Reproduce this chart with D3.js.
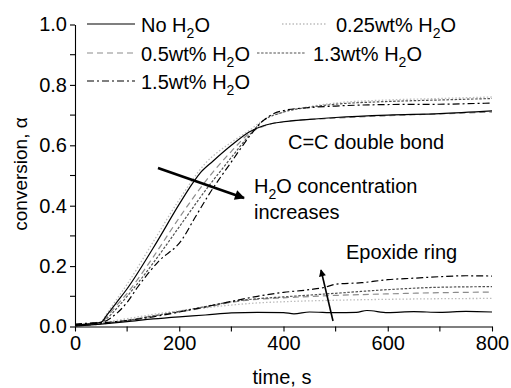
<!DOCTYPE html>
<html>
<head>
<meta charset="utf-8">
<script src="https://cdn.jsdelivr.net/npm/d3@7"></script>
<style>
    body { margin: 0; background: #fff; }
    text { font-family: "Liberation Sans", Arial, sans-serif; fill: #000; }
</style>
</head>
<body>
<div id="chart-area"></div>
<script>

// legend entries, in legend order
let seriesNames = ["No", "0.25wt%", "0.5wt%", "1.3wt%", "1.5wt%"];

// C=C double bond conversion, [time s, alpha]
let ccNo = [[0, 0.004], [25, 0.008], [50, 0.014], [60, 0.035], [80, 0.08], [100, 0.125], [150, 0.26],
    [200, 0.405], [220, 0.46], [240, 0.508], [265, 0.548], [300, 0.6], [335, 0.645], [360, 0.664],
    [400, 0.678], [450, 0.686], [500, 0.692], [600, 0.7], [700, 0.705], [800, 0.714]];
let cc025 = [[0, 0.006], [25, 0.01], [50, 0.016], [60, 0.04], [80, 0.09], [100, 0.14], [150, 0.28],
    [200, 0.42], [250, 0.54], [300, 0.61], [335, 0.65], [360, 0.682], [400, 0.71], [450, 0.728],
    [500, 0.74], [600, 0.75], [700, 0.755], [800, 0.76]];
let cc05 = [[0, 0.003], [25, 0.007], [50, 0.012], [60, 0.03], [80, 0.07], [100, 0.11], [150, 0.23],
    [200, 0.36], [250, 0.48], [300, 0.58], [335, 0.64], [360, 0.662], [400, 0.678], [500, 0.69],
    [600, 0.698], [700, 0.704], [800, 0.71]];
let cc13 = [[0, 0.005], [25, 0.009], [50, 0.014], [60, 0.025], [80, 0.06], [100, 0.1], [150, 0.21],
    [200, 0.33], [250, 0.45], [300, 0.56], [335, 0.635], [360, 0.68], [400, 0.71], [450, 0.726],
    [500, 0.736], [600, 0.745], [700, 0.75], [800, 0.755]];
let cc15 = [[0, 0.008], [25, 0.011], [50, 0.013], [70, 0.03], [100, 0.08], [120, 0.13], [160, 0.215],
    [205, 0.287], [230, 0.36], [258, 0.44], [300, 0.545], [335, 0.63], [360, 0.68], [380, 0.704],
    [400, 0.715], [450, 0.725], [500, 0.73], [600, 0.735], [700, 0.736], [800, 0.74]];

// epoxide ring conversion, [time s, alpha]
let epNo = [[0, 0.001], [50, 0.008], [100, 0.016], [150, 0.025], [200, 0.032], [250, 0.038],
    [300, 0.045], [350, 0.047], [400, 0.046], [420, 0.042], [450, 0.048], [500, 0.046], [540, 0.047],
    [560, 0.053], [600, 0.046], [650, 0.049], [700, 0.047], [750, 0.05], [800, 0.048]];
let ep025 = [[0, 0.003], [50, 0.012], [100, 0.026], [150, 0.04], [200, 0.052], [250, 0.062],
    [300, 0.071], [350, 0.078], [400, 0.082], [500, 0.087], [600, 0.09], [700, 0.092], [800, 0.093]];
let ep05 = [[0, 0.001], [50, 0.008], [100, 0.02], [150, 0.035], [200, 0.048], [250, 0.063],
    [300, 0.08], [350, 0.09], [400, 0.095], [500, 0.103], [600, 0.108], [700, 0.112], [800, 0.114]];
let ep13 = [[0, 0.002], [50, 0.01], [100, 0.02], [150, 0.035], [200, 0.05], [250, 0.066],
    [300, 0.082], [350, 0.092], [400, 0.098], [500, 0.11], [600, 0.122], [700, 0.13], [800, 0.132]];
let ep15 = [[0, 0.006], [50, 0.012], [100, 0.02], [150, 0.032], [200, 0.048], [250, 0.065],
    [300, 0.083], [350, 0.1], [400, 0.113], [450, 0.122], [480, 0.13], [500, 0.14], [550, 0.145],
    [600, 0.155], [650, 0.16], [700, 0.165], [750, 0.168], [800, 0.167]];

// axis ticks
let xTicks = [0, 200, 400, 600, 800];
let xMinor = [100, 300, 500, 700];
let yTicks = [0, 0.2, 0.4, 0.6, 0.8, 1.0];
let yMinor = [0.1, 0.3, 0.5, 0.7, 0.9];


class ConversionChart {

    constructor(parentElement) {
        this.parentElement = parentElement;
        this.initVis();
    }

    initVis() {
        let vis = this;

        vis.width = 511;
        vis.height = 388;

        vis.svg = d3.select("#" + vis.parentElement).append("svg")
            .attr("width", vis.width)
            .attr("height", vis.height);

        vis.x = d3.scaleLinear().domain([0, 800]).range([75, 492]);
        vis.y = d3.scaleLinear().domain([0, 1]).range([326.5, 24.5]);

        // styles for each water content
        vis.styles = {
            "No":      {color: "#000", dash: null, width: 1.2},
            "0.25wt%": {color: "#bdbdbd", dash: "1.5,2", width: 1.3},
            "0.5wt%":  {color: "#8c8c8c", dash: "6,4", width: 1.2},
            "1.3wt%":  {color: "#505050", dash: "2.5,1.6", width: 1.2},
            "1.5wt%":  {color: "#000", dash: "7,3,2,3", width: 1.2}
        };

        vis.wrangleData();
    }

    wrangleData() {
        let vis = this;

        let cc = [ccNo, cc025, cc05, cc13, cc15];
        let ep = [epNo, ep025, ep05, ep13, ep15];

        vis.lines = [];
        seriesNames.forEach((name, i) => {
            vis.lines.push({name: name, values: cc[i]});
            vis.lines.push({name: name, values: ep[i]});
        });

        vis.updateVis();
    }

    updateVis() {
        let vis = this;

        // axes
        let xAxis = d3.axisBottom(vis.x).tickValues(xTicks).tickSize(5).tickSizeOuter(0)
            .tickFormat(d3.format("d")).tickPadding(4);
        let yAxis = d3.axisLeft(vis.y).tickValues(yTicks).tickSize(5).tickSizeOuter(0)
            .tickFormat(d3.format(".1f")).tickPadding(3);

        let gx = vis.svg.append("g")
            .attr("transform", `translate(0, ${vis.y(0)})`)
            .call(xAxis);
        let gy = vis.svg.append("g")
            .attr("transform", `translate(${vis.x(0)}, 0)`)
            .call(yAxis);

        [gx, gy].forEach(g => {
            g.selectAll("text").style("font-size", "20px").attr("fill", "#000");
            g.selectAll("line").attr("stroke", "#000").attr("stroke-width", 1.1);
            g.select(".domain").attr("stroke", "#000").attr("stroke-width", 1.1);
        });

        // minor ticks
        vis.svg.selectAll(".xMinor")
            .data(xMinor)
            .enter().append("line")
            .attr("class", "xMinor")
            .attr("x1", d => vis.x(d)).attr("x2", d => vis.x(d))
            .attr("y1", vis.y(0)).attr("y2", vis.y(0) + 5)
            .attr("stroke", "#000").attr("stroke-width", 1.1);
        vis.svg.selectAll(".yMinor")
            .data(yMinor)
            .enter().append("line")
            .attr("class", "yMinor")
            .attr("x1", vis.x(0) - 5).attr("x2", vis.x(0))
            .attr("y1", d => vis.y(d)).attr("y2", d => vis.y(d))
            .attr("stroke", "#000").attr("stroke-width", 1.1);

        // axis titles
        vis.svg.append("text")
            .attr("x", 282).attr("y", 384)
            .attr("text-anchor", "middle")
            .style("font-size", "20px")
            .text("time, s");
        vis.svg.append("text")
            .attr("transform", `translate(27, 174) rotate(-90)`)
            .attr("text-anchor", "middle")
            .style("font-size", "19px")
            .text("conversion, \u03b1");

        // curves
        let line = d3.line()
            .x(d => vis.x(d[0]))
            .y(d => vis.y(d[1]))
            .curve(d3.curveMonotoneX);

        // draw lightest first so dark lines sit on top
        let order = ["0.25wt%", "0.5wt%", "1.3wt%", "1.5wt%", "No"];
        vis.svg.selectAll(".curve")
            .data(vis.lines.slice().sort((a, b) => order.indexOf(a.name) - order.indexOf(b.name)))
            .enter().append("path")
            .attr("class", "curve")
            .attr("d", d => line(d.values))
            .attr("fill", "none")
            .attr("stroke", d => vis.styles[d.name].color)
            .attr("stroke-width", d => vis.styles[d.name].width)
            .attr("stroke-dasharray", d => vis.styles[d.name].dash);

        // legend
        let legendPos = [
            {x1: 87, x2: 135, y: 24, tx: 141},
            {x1: 282, x2: 327, y: 24, tx: 336},
            {x1: 87, x2: 135, y: 53, tx: 141},
            {x1: 257, x2: 305, y: 53, tx: 313},
            {x1: 87, x2: 135, y: 81, tx: 141}
        ];

        seriesNames.forEach((name, i) => {
            let p = legendPos[i];
            let s = vis.styles[name];
            vis.svg.append("line")
                .attr("x1", p.x1).attr("x2", p.x2)
                .attr("y1", p.y).attr("y2", p.y)
                .attr("stroke", s.color)
                .attr("stroke-width", s.width)
                .attr("stroke-dasharray", s.dash);
            vis.addH2O(vis.svg.append("text").attr("x", p.tx).attr("y", p.y + 8), name + " ");
        });

        // annotations
        vis.svg.append("text")
            .attr("x", 288).attr("y", 149)
            .style("font-size", "20px")
            .text("C=C double bond");
        vis.addH2O(vis.svg.append("text").attr("x", 254).attr("y", 193), "", " concentration");
        vis.svg.append("text")
            .attr("x", 254).attr("y", 219)
            .style("font-size", "20px")
            .text("increases");
        vis.svg.append("text")
            .attr("x", 346).attr("y", 259)
            .style("font-size", "20px")
            .text("Epoxide ring");

        // arrows
        let defs = vis.svg.append("defs");
        defs.append("marker")
            .attr("id", "head")
            .attr("viewBox", "0 0 10 10")
            .attr("refX", 9).attr("refY", 5)
            .attr("markerUnits", "userSpaceOnUse")
            .attr("markerWidth", 12).attr("markerHeight", 10)
            .attr("orient", "auto")
            .append("path")
            .attr("d", "M0,0 L10,5 L0,10 z")
            .attr("fill", "#000");
        defs.append("marker")
            .attr("id", "headSmall")
            .attr("viewBox", "0 0 10 10")
            .attr("refX", 9).attr("refY", 5)
            .attr("markerUnits", "userSpaceOnUse")
            .attr("markerWidth", 10).attr("markerHeight", 7)
            .attr("orient", "auto")
            .append("path")
            .attr("d", "M0,0 L10,5 L0,10 z")
            .attr("fill", "#000");

        vis.svg.append("line")
            .attr("x1", 158).attr("y1", 168)
            .attr("x2", 244).attr("y2", 198)
            .attr("stroke", "#000").attr("stroke-width", 2.6)
            .attr("marker-end", "url(#head)");
        vis.svg.append("line")
            .attr("x1", 333).attr("y1", 321)
            .attr("x2", 321).attr("y2", 270)
            .attr("stroke", "#000").attr("stroke-width", 1.6)
            .attr("marker-end", "url(#headSmall)");
    }

    // "<prefix>H₂O<suffix>" with a real subscript
    addH2O(text, prefix, suffix) {
        text.style("font-size", "20px");
        text.append("tspan").text(prefix + "H");
        text.append("tspan").attr("dy", 6).style("font-size", "14px").text("2");
        text.append("tspan").attr("dy", -6).text("O" + (suffix || ""));
    }
}

let chart = new ConversionChart("chart-area");
</script>
</body>
</html>
